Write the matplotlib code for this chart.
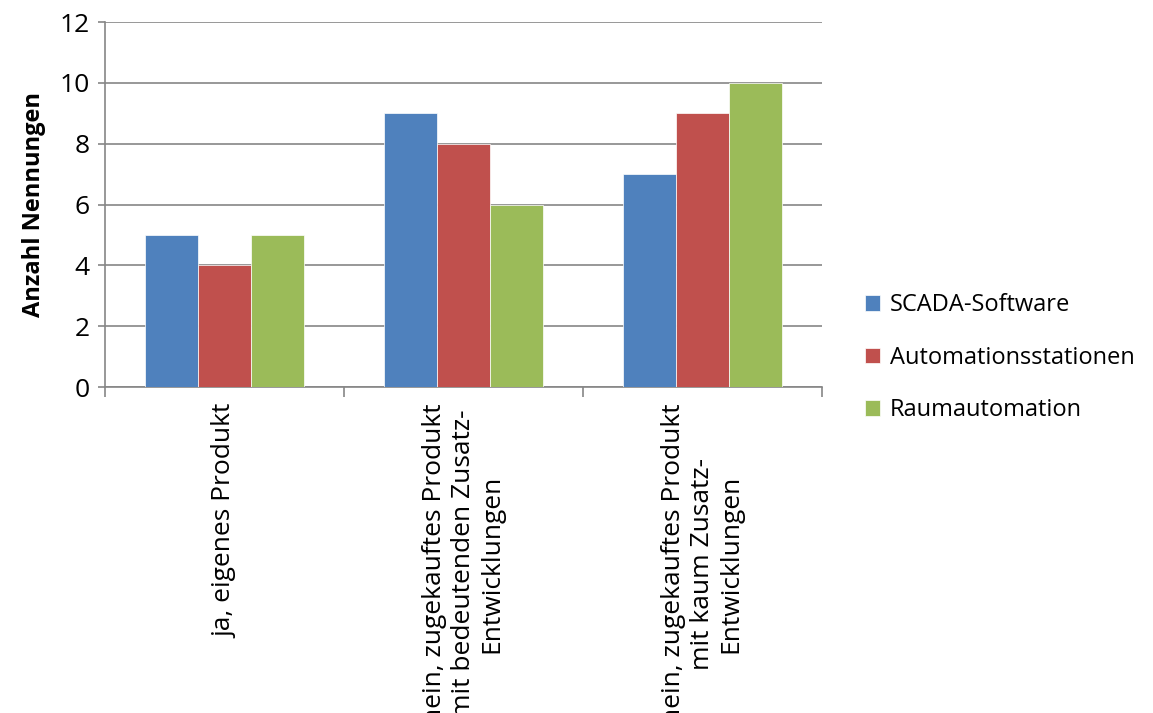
import matplotlib.pyplot as plt
import numpy as np

plt.rcParams['font.family'] = ['Open Sans', 'DejaVu Sans']

categories = ["ja, eigenes Produkt",
              "nein, zugekauftes Produkt\nmit bedeutenden Zusatz-\nEntwicklungen",
              "nein, zugekauftes Produkt\nmit kaum Zusatz-\nEntwicklungen"]
series = ["SCADA-Software", "Automationsstationen", "Raumautomation"]
scada = [5, 9, 7]
automation = [4, 8, 9]
raum = [5, 6, 10]
colors = ['#4F81BD', '#C0504D', '#9BBB59']

fig = plt.figure(figsize=(11.53, 7.13), dpi=100)
ax = fig.add_axes([0.0911, 0.4572, 0.6218, 0.5119])

x = np.arange(len(categories))
w = 0.222
for i, (vals, name) in enumerate(zip([scada, automation, raum], series)):
    ax.bar(x + (i - 1) * w, vals, w, color=colors[i], label=name,
           edgecolor='white', linewidth=0.5, zorder=3)

grid_c = '#868686'
ax.set_xlim(-0.5, 2.5)
ax.set_ylim(0, 12)
ax.set_yticks(range(0, 13, 2))
ax.yaxis.grid(True, color=grid_c, linewidth=1.2, zorder=0)
for s in ['top', 'right']:
    ax.spines[s].set_visible(False)
for s in ['left', 'bottom']:
    ax.spines[s].set_color(grid_c)
    ax.spines[s].set_linewidth(1.2)
ax.tick_params(axis='y', colors=grid_c, labelcolor='black', labelsize=19,
               length=5, width=1.2, pad=6)
ax.set_xticks([-0.5, 0.5, 1.5, 2.5])
ax.set_xticklabels([])
ax.tick_params(axis='x', colors=grid_c, length=7, width=1.2)

for xi, lab in zip(x, categories):
    ax.text(xi, -0.55, lab, rotation=90, ha='center', va='top',
            multialignment='center', fontsize=19, transform=ax.transData,
            linespacing=1.2)

ax.set_ylabel("Anzahl Nennungen", fontsize=17, fontweight='bold', labelpad=10)

ax.legend(loc='center left', bbox_to_anchor=(1.03, 0.08), frameon=False,
          fontsize=17, handlelength=0.65, handleheight=0.65, handletextpad=0.4,
          labelspacing=1.2)

fig.savefig('out.png', dpi=100)
